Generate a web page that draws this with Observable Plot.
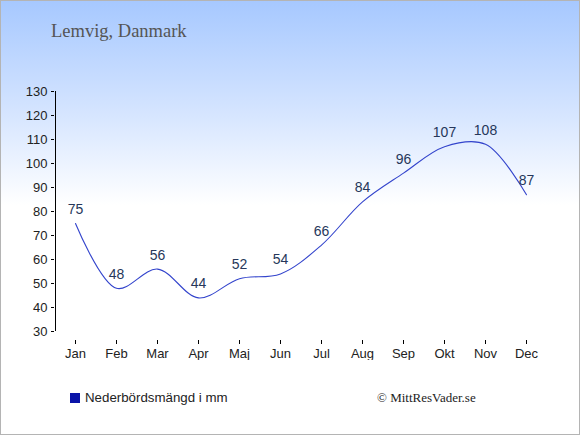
<!DOCTYPE html>
<html>
<head>
<meta charset="utf-8">
<script src="https://cdn.jsdelivr.net/npm/d3@7"></script>
<script src="https://cdn.jsdelivr.net/npm/@observablehq/plot@0.6"></script>
<style>
  html, body { margin: 0; padding: 0; background: #fff; }
  #wrap { position: relative; width: 580px; height: 435px; overflow: hidden;
    background: linear-gradient(to bottom, #a6c8ff 0px, #d4e4ff 110px, #ffffff 205px, #ffffff 435px); }
  #border { position: absolute; left: 0; top: 0; width: 580px; height: 435px; box-sizing: border-box;
    border: 1px solid #b4b4b4; pointer-events: none; }
  #title { position: absolute; left: 51px; top: 21px; font-family: "Liberation Serif", "DejaVu Serif", serif;
    font-size: 18.5px; color: #555555; white-space: nowrap; }
  #chart { position: absolute; left: 0; top: 0; }
  #legend { position: absolute; left: 70px; top: 390px; font-family: "Liberation Sans", Arial, sans-serif;
    font-size: 13.3px; color: #222; white-space: nowrap; display: flex; align-items: center; }
  #legend .sw { width: 10px; height: 10px; background: #0a14a8; margin-right: 5px; display: inline-block; }
  #credit { position: absolute; left: 377px; top: 390px; font-family: "Liberation Serif", "DejaVu Serif", serif;
    font-size: 13px; color: #222; white-space: nowrap; }
</style>
</head>
<body>
<div id="wrap">
  <div id="title">Lemvig, Danmark</div>
  <div id="chart"></div>
  <div id="legend"><span class="sw"></span>Nederbördsmängd i mm</div>
  <div id="credit">© MittResVader.se</div>
  <div id="border"></div>
</div>
<script>
const months = ["Jan","Feb","Mar","Apr","Maj","Jun","Jul","Aug","Sep","Okt","Nov","Dec"];
const precipitation = [75, 48, 56, 44, 52, 54, 66, 84, 96, 107, 108, 87];
const yTicks = [30, 40, 50, 60, 70, 80, 90, 100, 110, 120, 130];

const data = months.map((m, i) => ({month: m, value: precipitation[i]}));

const plot = Plot.plot({
  width: 580,
  height: 360,
  marginLeft: 74,
  marginRight: 54,
  marginTop: 91,
  marginBottom: 29,
  style: {background: "transparent", fontFamily: "'Liberation Sans', Arial, sans-serif", fontSize: "13px", color: "#222"},
  x: {type: "point", domain: months, padding: 0},
  y: {domain: [30, 130]},
  marks: [
    Plot.ruleX([months[0]], {y1: 30, y2: 130, dx: -20, stroke: "#000", strokeWidth: 1}),
    Plot.axisY({ticks: yTicks, tickSize: 3, tickPadding: 4, dx: -20, stroke: "#000", strokeWidth: 1, fill: "#222", fontSize: 13, label: null}),
    Plot.ruleY([30], {x1: months[0], x2: months[months.length - 1], dy: 9, stroke: "#000", strokeWidth: 1}),
    Plot.axisX({tickSize: 4, tickPadding: 4, dy: 9, stroke: "#000", strokeWidth: 1, fill: "#222", fontSize: 13, label: null}),
    Plot.line(data, {x: "month", y: "value", curve: "catmull-rom", stroke: "#3344cc", strokeWidth: 1.1}),
    Plot.text(data, {x: "month", y: "value", text: d => String(d.value), dy: -14, fill: "#26375a", fontSize: 14})
  ]
});
document.getElementById("chart").appendChild(plot);
</script>
</body>
</html>
